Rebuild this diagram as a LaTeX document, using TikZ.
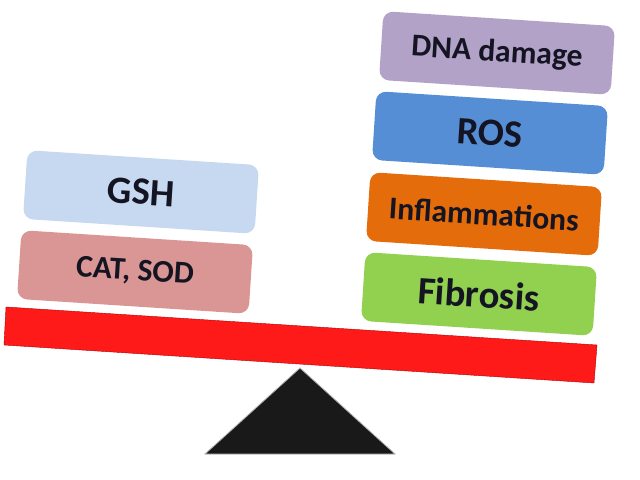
\documentclass[tikz,border=0pt]{standalone}
\usepackage{fontspec}
\setmainfont{Carlito}
\definecolor{gshblue}{HTML}{C6D9F1}
\definecolor{catred}{HTML}{D99694}
\definecolor{dnapurple}{HTML}{B3A2C7}
\definecolor{rosblue}{HTML}{558ED5}
\definecolor{inforange}{HTML}{E46C0A}
\definecolor{fibgreen}{HTML}{92D050}
\definecolor{beamred}{HTML}{FF1A1A}
\definecolor{txt}{HTML}{141423}
\begin{document}
\begin{tikzpicture}[x=0.025cm,y=-0.025cm,
  box/.style={rounded corners=0.25cm,minimum width=5.8cm,minimum height=1.72cm,
    inner sep=0pt,rotate=-3.7,text=txt,font=\bfseries\fontsize{22.5}{26}\selectfont},
  big/.style={font=\bfseries\fontsize{27.5}{30}\selectfont}]
\useasboundingbox (0,0) rectangle (640,480);
\fill[beamred,draw=red!70!black,line width=0.3pt] (6,307) -- (597,345) -- (594,383) -- (4,345) -- cycle;
\fill[black!90,draw=gray!60,line width=0.6pt] (300,368) -- (395,454) -- (205,454) -- cycle;
\node[box,big,fill=gshblue] (gsh) at (141,192) {GSH};
\node[box,fill=catred] (catsod) at (135,272) {CAT, SOD};
\node[box,fill=dnapurple] (dna) at (497,53) {DNA damage};
\node[box,big,fill=rosblue] (ros) at (490,133) {ROS};
\node[box,fill=inforange] (infl) at (484,214) {Inflammations};
\node[box,big,fill=fibgreen] (fib) at (479,294) {Fibrosis};
\end{tikzpicture}
\end{document}
